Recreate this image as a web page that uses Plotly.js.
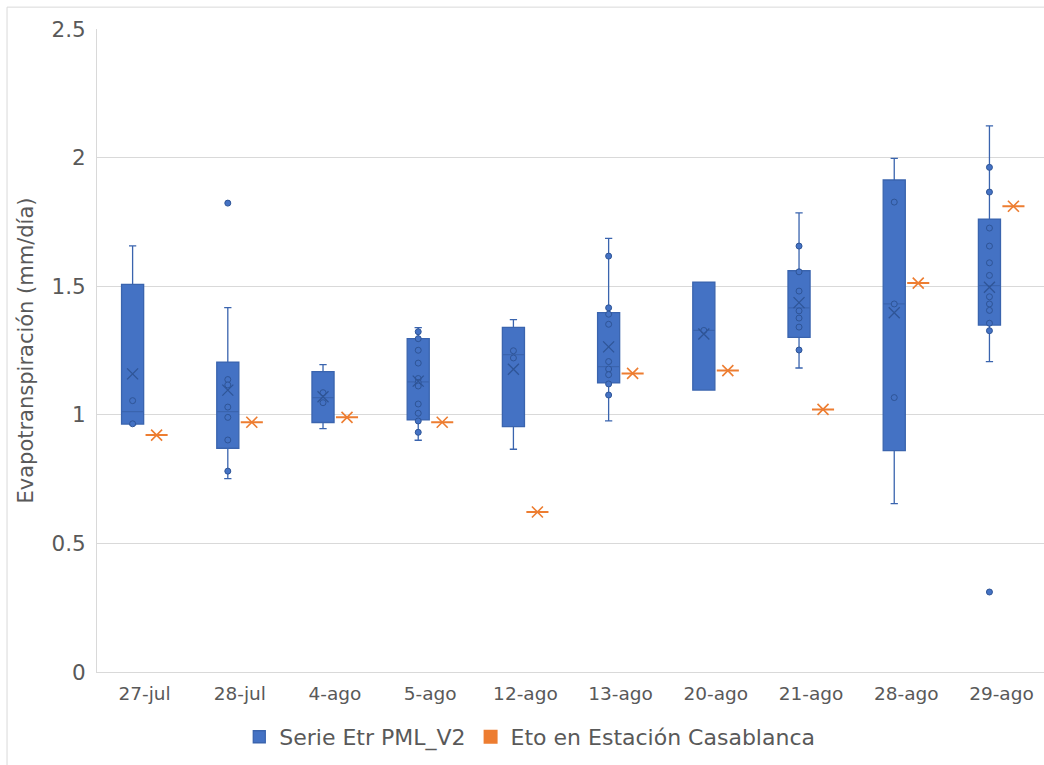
<!DOCTYPE html>
<html>
<head>
<meta charset="utf-8">
<script src="https://cdn.plot.ly/plotly-3.0.1.min.js"></script>
<style>
  html, body { margin: 0; padding: 0; background: #ffffff; overflow: hidden; }
  #chart { width: 1044px; height: 765px; }
</style>
</head>
<body>
<div id="chart"></div>
<script>
// ---- Data ----
const categories = ['27-jul', '28-jul', '4-ago', '5-ago', '12-ago', '13-ago', '20-ago', '21-ago', '28-ago', '29-ago'];

// Serie Etr PML_V2 (box statistics)
const etrMin    = [0.962, 0.752, 0.946, 0.901, 0.866, 0.976, 1.096, 1.182, 0.655, 1.207];
const etrQ1     = [0.964, 0.870, 0.970, 0.980, 0.954, 1.124, 1.096, 1.301, 0.861, 1.349];
const etrMedian = [1.012, 1.012, 1.067, 1.128, 1.234, 1.187, 1.328, 1.416, 1.431, 1.502];
const etrQ3     = [1.507, 1.205, 1.168, 1.296, 1.340, 1.397, 1.516, 1.560, 1.913, 1.761];
const etrMax    = [1.657, 1.417, 1.195, 1.339, 1.370, 1.686, 1.516, 1.785, 1.997, 2.123];
const etrMean   = [1.159, 1.096, 1.070, 1.131, 1.177, 1.264, 1.314, 1.436, 1.397, 1.496];

// Serie Etr PML_V2 (individual points shown)
const etrPoints = [
  [1.055, 0.965],
  [1.137, 1.116, 1.030, 0.990, 0.902, 0.781],
  [1.086, 1.047],
  [1.323, 1.296, 1.251, 1.201, 1.141, 1.126, 1.112, 1.042, 1.006, 0.976, 0.932],
  [1.249, 1.221],
  [1.617, 1.416, 1.391, 1.352, 1.207, 1.178, 1.156, 1.120, 1.077],
  [1.328],
  [1.656, 1.556, 1.481, 1.404, 1.376, 1.341, 1.252],
  [1.827, 1.431, 1.067],
  [1.962, 1.866, 1.726, 1.656, 1.591, 1.542, 1.459, 1.431, 1.406, 1.356, 1.327]
];
const etrOutliers = [[], [1.823], [], [], [], [], [], [], [], [0.311]];

// Eto en Estación Casablanca (single value per date)
const etoValues = [0.921, 0.971, 0.990, 0.971, 0.622, 1.161, 1.172, 1.021, 1.512, 1.811];

const seriesNames = ['Serie Etr PML_V2', 'Eto en Estación Casablanca'];

// ---- Build traces ----
const BLUE = '#4472C4', BLUE_DARK = '#2F5597', ORANGE = '#ED7D31';
const OFF = 0.126, BOXW = 0.232;
const idx = categories.map((c, i) => i);
const xBlue = idx.map(i => i - OFF);
const xOrange = idx.map(i => i + OFF);

const ptsX = [], ptsY = [];
etrPoints.forEach((arr, i) => arr.forEach(v => { ptsX.push(xBlue[i]); ptsY.push(v); }));
etrOutliers.forEach((arr, i) => arr.forEach(v => { ptsX.push(xBlue[i]); ptsY.push(v); }));

const traces = [
  {
    type: 'box', name: seriesNames[0], x: xBlue,
    q1: etrQ1, median: etrMedian, q3: etrQ3,
    lowerfence: etrMin, upperfence: etrMax,
    width: BOXW, boxpoints: false, whiskerwidth: 0.33,
    fillcolor: BLUE, line: { color: '#3A64AE', width: 1.3 },
    hoverinfo: 'skip'
  },
  {
    type: 'box', name: seriesNames[1], x: xOrange,
    q1: etoValues, median: etoValues, q3: etoValues,
    lowerfence: etoValues, upperfence: etoValues,
    width: BOXW, boxpoints: false, whiskerwidth: 0,
    fillcolor: ORANGE, line: { color: ORANGE, width: 2 },
    hoverinfo: 'skip'
  },
  {
    type: 'scatter', mode: 'markers', x: ptsX, y: ptsY, showlegend: false,
    marker: { symbol: 'circle', size: 6, color: BLUE, line: { color: BLUE_DARK, width: 1 } },
    hoverinfo: 'skip'
  },
  {
    type: 'scatter', mode: 'markers', x: xBlue, y: etrMean, showlegend: false,
    marker: { symbol: 'x-thin-open', size: 11, color: BLUE_DARK, line: { color: BLUE_DARK, width: 1.3 } },
    hoverinfo: 'skip'
  },
  {
    type: 'scatter', mode: 'markers', x: xOrange, y: etoValues, showlegend: false,
    marker: { symbol: 'x-thin-open', size: 11, color: ORANGE, line: { color: ORANGE, width: 1.6 } },
    hoverinfo: 'skip'
  }
];

const FONT = '"DejaVu Sans", Verdana, sans-serif';
const GREY = '#595959', GRID = '#D9D9D9';

const layout = {
  width: 1044, height: 765,
  margin: { l: 97, r: 0, t: 29, b: 93 },
  paper_bgcolor: '#ffffff', plot_bgcolor: '#ffffff',
  font: { family: FONT, color: GREY },
  showlegend: true,
  legend: {
    orientation: 'h', x: 0.457, xanchor: 'center', y: -0.101, yanchor: 'middle',
    font: { family: FONT, size: 22, color: GREY }, itemwidth: 30,
    traceorder: 'normal'
  },
  xaxis: {
    range: [-0.5, 9.447],
    tickmode: 'array', tickvals: idx, ticktext: categories,
    showgrid: false, zeroline: false,
    showline: true, linecolor: GRID, linewidth: 1,
    ticks: '', ticklabelstandoff: 5,
    tickfont: { family: FONT, size: 18.5, color: GREY }
  },
  yaxis: {
    range: [0, 2.5], tickmode: 'array', tickvals: [0, 0.5, 1, 1.5, 2, 2.5],
    ticktext: ['0', '0.5', '1', '1.5', '2', '2.5'],
    showgrid: true, gridcolor: GRID, gridwidth: 1, zeroline: false,
    showline: true, linecolor: GRID, linewidth: 1,
    ticks: '', ticklabelstandoff: 6,
    tickfont: { family: FONT, size: 21.5, color: GREY },
    title: { text: 'Evapotranspiración (mm/día)', font: { family: FONT, size: 21, color: GREY }, standoff: 12 }
  },
  shapes: [
    { type: 'rect', xref: 'paper', yref: 'paper', x0: -0.095, x1: 1.1, y0: -0.25, y1: 1.034,
      line: { color: GRID, width: 1 }, fillcolor: 'rgba(0,0,0,0)', layer: 'below' }
  ]
};

Plotly.newPlot('chart', traces, layout, { displayModeBar: false, staticPlot: true });
</script>
</body>
</html>
